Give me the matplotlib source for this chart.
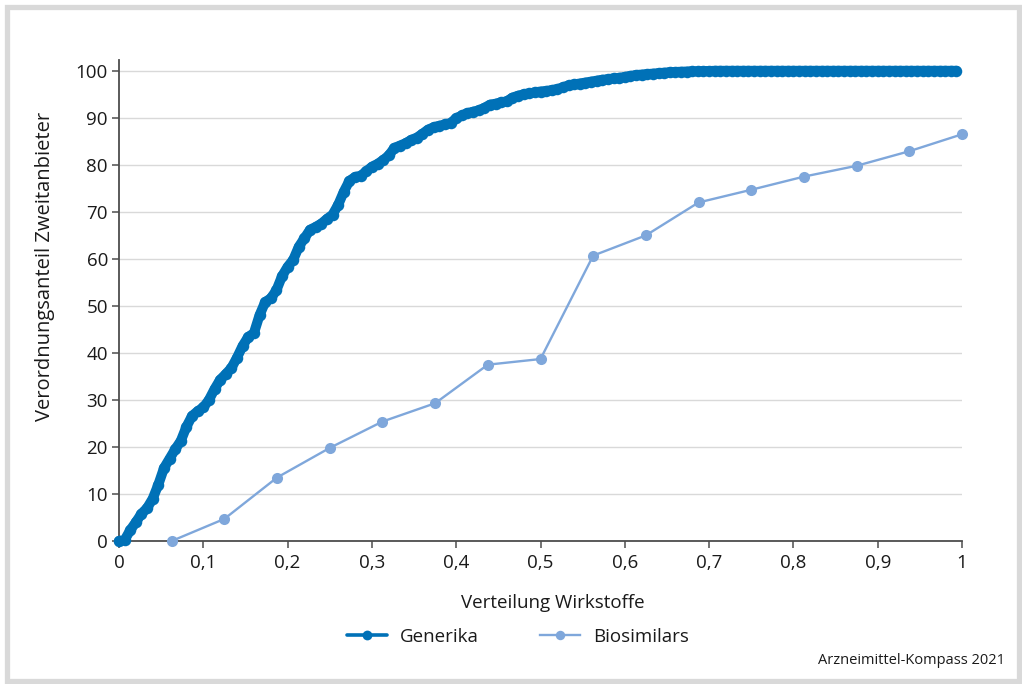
import matplotlib
matplotlib.use("Agg")
import matplotlib.pyplot as plt
from matplotlib.patches import Rectangle
from matplotlib.ticker import FuncFormatter

plt.rcParams['font.family'] = ['Open Sans', 'DejaVu Sans']

# Generika: cumulative share per active substance, evenly spaced over 150 substances
generika_n = 150
generika_y = [
    0.0, 0.2, 2.3, 4.0, 5.8, 7.0, 9.0, 12.0, 15.5, 17.5,
    19.5, 21.3, 24.3, 26.6, 27.6, 28.4, 30.0, 32.3, 34.3, 35.5,
    36.8, 39.0, 41.5, 43.4, 44.2, 48.0, 50.8, 51.6, 53.3, 56.3,
    58.3, 59.8, 62.6, 64.4, 66.2, 66.8, 67.5, 68.5, 69.4, 71.5,
    74.3, 76.6, 77.4, 77.7, 78.6, 79.6, 80.2, 81.0, 82.0, 83.6,
    84.1, 84.6, 85.3, 85.8, 86.6, 87.5, 88.0, 88.3, 88.6, 88.9,
    89.9, 90.5, 91.0, 91.3, 91.6, 92.1, 92.8, 93.0, 93.3, 93.5,
    94.3, 94.7, 95.0, 95.2, 95.4, 95.6, 95.7, 95.9, 96.1, 96.5,
    96.9, 97.1, 97.3, 97.5, 97.7, 97.9, 98.1, 98.2, 98.4, 98.5,
    98.7, 98.9, 99.1, 99.2, 99.3, 99.4, 99.5, 99.6, 99.7, 99.75,
    99.8, 99.85, 99.9, 99.9, 99.95, 99.95, 100.0, 100.0, 100.0, 100.0,
    100.0, 100.0, 100.0, 100.0, 100.0, 100.0, 100.0, 100.0, 100.0, 100.0,
    100.0, 100.0, 100.0, 100.0, 100.0, 100.0, 100.0, 100.0, 100.0, 100.0,
    100.0, 100.0, 100.0, 100.0, 100.0, 100.0, 100.0, 100.0, 100.0, 100.0,
    100.0, 100.0, 100.0, 100.0, 100.0, 100.0, 100.0, 100.0, 100.0, 100.0,
]
generika_x = [i / generika_n for i in range(len(generika_y))]

# Biosimilars: 16 active substances
biosimilars_x = [i / 16 for i in range(1, 17)]
biosimilars_y = [0.0, 4.7, 13.5, 19.8, 25.4, 29.3, 37.5, 38.7,
                 60.7, 65.0, 72.0, 74.7, 77.5, 79.8, 82.9, 86.5]

x_ticks = [0, 0.1, 0.2, 0.3, 0.4, 0.5, 0.6, 0.7, 0.8, 0.9, 1.0]
y_ticks = [0, 10, 20, 30, 40, 50, 60, 70, 80, 90, 100]

col_gen = '#0071b7'
col_bio = '#7fa7db'
text_col = '#1a1a1a'
axis_col = '#4d4d4d'
fs = 13.5

fig = plt.figure(figsize=(10.22, 6.84), dpi=100)
fig.patch.set_facecolor('white')

# outer grey frame
fig.add_artist(Rectangle((6.5 / 1022, 3.0 / 684), 1012.5 / 1022, 674.5 / 684,
                         transform=fig.transFigure, fill=False,
                         edgecolor='#d9d9d9', linewidth=3.8))

ax = fig.add_axes([119 / 1022, 1 - 541 / 684, 843 / 1022, (541 - 60) / 684])
ax.set_xlim(0, 1)
ax.set_ylim(0, 102.3)

ax.plot(generika_x, generika_y, color=col_gen, lw=7.2, marker='o', ms=8.3,
        markeredgewidth=0, solid_capstyle='round', solid_joinstyle='round',
        clip_on=False, zorder=4, label='Generika')
ax.plot(biosimilars_x, biosimilars_y, color=col_bio, lw=1.7, marker='o', ms=8,
        markeredgewidth=0, clip_on=False, zorder=3, label='Biosimilars')

ax.set_xticks(x_ticks)
ax.set_yticks(y_ticks)
ax.xaxis.set_major_formatter(FuncFormatter(
    lambda v, p: '0' if v == 0 else ('1' if v == 1 else f'{v:.1f}'.replace('.', ','))))
ax.yaxis.set_major_formatter(FuncFormatter(lambda v, p: f'{int(v)}'))

ax.grid(axis='y', color='#d9d9d9', lw=1)
ax.set_axisbelow(True)
for s in ('top', 'right'):
    ax.spines[s].set_visible(False)
for s in ('left', 'bottom'):
    ax.spines[s].set_color(axis_col)
    ax.spines[s].set_linewidth(1.3)
ax.tick_params(axis='both', direction='out', length=5, width=1.1, color=axis_col,
               labelcolor=text_col, labelsize=fs)
ax.tick_params(axis='x', pad=4)
ax.tick_params(axis='y', pad=3)

ax.set_xlabel('Verteilung Wirkstoffe', fontsize=fs, color=text_col)
ax.xaxis.set_label_coords(553 / 843 - 119 / 843, (541 - 603) / 481)
ax.xaxis.label.set_va('center')
ax.set_ylabel('Verordnungsanteil Zweitanbieter', fontsize=14.5, color=text_col)
ax.yaxis.set_label_coords((45 - 119) / 843, (541 - 266) / 481)
ax.yaxis.label.set_va('center')

leg = fig.legend(loc='center', bbox_to_anchor=(518 / 1022, 1 - 637 / 684), ncol=2,
                 frameon=False, fontsize=fs, handlelength=2.1, columnspacing=3.3,
                 handletextpad=0.7, markerscale=0.85)
for t in leg.get_texts():
    t.set_color(text_col)
leg.get_lines()[0].set_linewidth(2.6)

fig.text(1005 / 1022, 1 - 661 / 684, 'Arzneimittel-Kompass 2021', ha='right', va='center',
         fontsize=10.5, color=text_col)

fig.savefig('out.png', dpi=100, facecolor='white')
